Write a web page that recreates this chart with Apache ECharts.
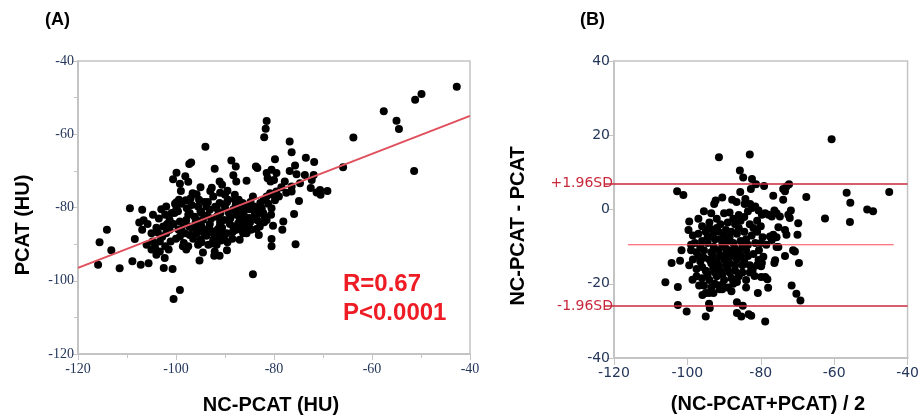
<!DOCTYPE html>
<html>
<head>
<meta charset="utf-8">
<script src="https://cdn.jsdelivr.net/npm/echarts@6/dist/echarts.min.js"></script>
<style>
	html, body { margin: 0; padding: 0; background: #fff; }
	#chart { width: 922px; height: 419px; }
</style>
</head>
<body>
<div id="chart"></div>
<script>
// (A) NC-PCAT vs PCAT, HU
var scatterA = [
	[-42.7,-47.0],[-49.9,-49.0],[-51.2,-50.6],[-57.6,-53.7],[-55.0,-56.3],[-54.5,-58.6],[-63.8,-60.9],[-51.4,-70.0],
	[-65.9,-69.0],[-81.5,-56.4],[-81.7,-58.5],[-82.0,-60.8],[-94.0,-63.4],[-76.8,-62.0],[-76.4,-64.9],[-73.5,-66.4],
	[-71.8,-67.6],[-79.8,-66.8],[-75.7,-68.5],[-76.8,-70.0],[-88.7,-67.2],[-87.8,-68.8],[-92.1,-69.4],[-97.3,-68.1],
	[-96.9,-67.7],[-99.9,-70.5],[-99.2,-73.5],[-98.1,-71.5],[-100.6,-72.3],[-83.7,-68.8],[-83.4,-69.2],[-85.6,-72.7],
	[-88.3,-71.2],[-87.7,-72.9],[-92.7,-74.6],[-91.1,-72.9],[-90.6,-73.8],[-89.5,-75.4],[-81.5,-70.6],[-80.5,-69.7],
	[-81.3,-72.0],[-80.0,-72.5],[-80.7,-72.9],[-79.5,-70.6],[-77.8,-72.9],[-75.4,-70.9],[-73.7,-71.1],[-71.9,-71.1],
	[-72.3,-72.5],[-76.4,-75.6],[-76.4,-74.3],[-74.7,-73.4],[-72.5,-74.7],[-71.3,-75.9],[-70.5,-76.5],[-69.1,-75.5],
	[-70.6,-75.2],[-74.9,-78.2],[-75.9,-81.8],[-75.6,-90.0],[-78.1,-83.8],[-78.3,-86.1],[-80.2,-85.0],[-80.5,-88.6],
	[-80.5,-90.6],[-84.3,-98.2],[-83.1,-87.5],[-83.6,-85.9],[-82.9,-85.2],[-84.9,-84.1],[-84.6,-82.9],[-86.3,-87.0],
	[-87.0,-88.8],[-85.6,-87.0],[-89.6,-91.7],[-90.8,-89.0],[-91.1,-93.2],[-92.2,-93.2],[-92.1,-92.0],[-94.5,-92.3],
	[-95.2,-94.5],[-97.9,-91.5],[-98.6,-90.6],[-99.2,-102.5],[-100.5,-105.0],[-100.7,-96.8],[-102.5,-96.5],[-102.3,-93.8],
	[-102.2,-90.6],[-103.3,-92.0],[-104.0,-92.9],[-105.0,-91.5],[-105.6,-95.2],[-107.2,-95.6],[-108.9,-94.7],[-111.5,-96.6],
	[-115.9,-95.6],[-115.6,-89.5],[-114.1,-86.1],[-113.2,-91.7],[-109.4,-80.2],[-108.4,-88.6],[-107.5,-84.1],[-106.9,-80.6],
	[-106.6,-83.5],[-106.9,-86.1],[-106.0,-90.2],[-104.7,-82.0],[-105.0,-87.0],[-104.8,-89.3],[-104.3,-90.8],[-103.3,-89.3],
	[-103.7,-86.8],[-102.6,-85.2],[-102.2,-82.0],[-102.0,-79.7],[-102.0,-87.0],[-103.0,-87.9],[-101.3,-83.4],[-100.9,-81.5],
	[-101.3,-86.1],[-101.1,-89.3],[-100.3,-81.5],[-99.9,-78.6],[-99.9,-80.2],[-99.4,-77.9],[-98.9,-79.0],[-99.2,-83.8],
	[-98.9,-86.1],[-99.2,-87.9],[-98.2,-87.0],[-98.4,-89.7],[-97.5,-90.6],[-97.2,-87.5],[-96.8,-85.6],[-97.2,-81.5],
	[-96.8,-79.3],[-96.6,-76.1],[-95.8,-76.4],[-95.3,-77.9],[-95.5,-79.7],[-94.8,-81.5],[-94.8,-85.2],[-94.3,-87.0],
	[-95.0,-88.8],[-93.8,-87.7],[-93.4,-90.2],[-93.8,-79.7],[-93.1,-80.6],[-92.4,-77.0],[-91.7,-80.2],[-91.7,-82.5],
	[-91.1,-78.8],[-90.9,-81.5],[-90.0,-76.5],[-90.2,-83.4],[-89.4,-77.9],[-89.2,-81.5],[-89.7,-87.0],[-88.3,-80.5],
	[-88.0,-77.9],[-87.7,-82.0],[-87.3,-84.3],[-86.4,-78.8],[-86.2,-81.5],[-85.5,-79.7],[-85.3,-82.9],[-84.7,-86.1],
	[-84.3,-77.0],[-83.9,-82.5],[-83.2,-80.6],[-82.5,-80.2],[-82.1,-77.9],[-81.5,-77.0],[-80.8,-76.1],[-80.2,-76.5],
	[-79.5,-75.6],[-80.5,-80.2],[-81.5,-83.4],[-82.2,-81.5],[-82.9,-81.5],[-81.9,-82.5],[-84.1,-79.7],[-85.7,-83.4],
	[-86.6,-84.7],[-88.3,-85.2],[-88.9,-82.9],[-91.1,-85.2],[-92.4,-87.0],[-92.4,-88.8],[-91.1,-87.9],[-93.1,-84.5],
	[-94.5,-83.4],[-95.8,-83.4],[-97.9,-83.4],[-97.3,-85.2],[-95.8,-87.0],[-95.5,-90.2],[-91.7,-90.2],[-90.4,-87.0],
	[-87.7,-86.1],[-88.0,-76.5],[-87.2,-77.9],[-97.5,-82.0],[-96.0,-84.0],[-94.0,-86.0],[-92.8,-83.0],[-91.0,-84.0],
	[-90.0,-80.0],[-89.0,-84.5],[-88.5,-88.5],[-87.0,-80.5],[-86.0,-85.5],[-85.0,-80.5],[-96.5,-88.5],[-93.5,-78.5],
	[-99.6,-81.0],[-101.8,-84.5],[-100.0,-88.5],[-98.0,-78.0],[-95.0,-81.0],[-91.5,-86.0],[-89.5,-89.5],[-103.5,-83.0],
	[-104.0,-85.5],[-102.8,-88.0],[-101.5,-91.5],[-100.5,-84.5],[-99.5,-86.0],[-100.2,-79.0],[-98.5,-84.5],[-97.8,-80.2],
	[-97.0,-77.5],[-96.2,-82.5],[-95.5,-85.8],[-94.8,-89.5],[-94.2,-78.5],[-93.6,-82.2],[-93.0,-86.2],[-92.6,-89.8],
	[-92.0,-79.8],[-91.4,-82.0],[-90.6,-85.5],[-90.2,-88.5],[-89.6,-78.6],[-89.0,-83.0],[-88.4,-86.6],[-87.8,-79.2],
	[-87.0,-83.0],[-86.6,-86.0],[-86.0,-80.0],[-85.4,-84.8],[-84.8,-78.5],[-84.0,-81.0],[-83.4,-83.5],[-82.8,-78.8],
	[-82.0,-84.0],[-81.2,-79.0],[-80.6,-82.0],[-79.8,-78.0],[-79.0,-77.0],[-78.5,-74.5],[-77.5,-76.0],[-99.0,-75.5],
	[-97.5,-73.0],[-95.0,-74.5],[-93.0,-75.5],[-91.0,-76.0],[-103.0,-80.5],[-105.8,-84.5]
];
var fitX = [-120, -40];
var fitY = [-96.5, -55.0];
var statR = 'R=0.67';
var statP = 'P<0.0001';

// (B) Bland-Altman: mean of the two vs difference
var scatterB = [
	[-60.7,18.9],[-91.4,14.1],[-83.0,14.8],[-85.7,10.5],[-84.8,8.6],[-82.4,8.2],[-81.3,6.8],[-79.1,6.3],
	[-82.7,5.5],[-85.6,4.7],[-102.8,4.9],[-101.1,3.9],[-72.3,6.8],[-73.0,6.2],[-73.9,5.5],[-73.4,4.9],
	[-76.6,3.7],[-73.9,2.6],[-67.6,3.4],[-56.6,4.5],[-55.6,1.8],[-45.0,4.7],[-51.0,0.0],[-49.4,-0.5],
	[-62.5,-2.4],[-55.7,-3.4],[-90.5,3.2],[-92.3,2.4],[-92.7,1.5],[-87.8,2.6],[-86.6,2.0],[-84.2,2.8],
	[-84.4,1.5],[-82.9,1.5],[-82.4,0.4],[-81.5,0.8],[-80.6,-0.3],[-79.7,-1.4],[-78.8,-1.0],[-77.9,-1.4],
	[-77.0,-1.9],[-76.3,-0.3],[-75.7,-1.0],[-74.8,-1.9],[-72.5,-1.4],[-71.8,-0.3],[-72.1,-2.3],[-69.8,-3.7],
	[-70.0,-6.8],[-73.4,-5.5],[-73.0,-6.8],[-75.2,-4.8],[-75.7,-7.5],[-76.6,-6.8],[-77.0,-8.2],[-77.5,-7.3],
	[-75.7,-10.1],[-75.2,-10.1],[-73.4,-12.5],[-71.2,-11.0],[-70.7,-11.3],[-69.6,-14.4],[-71.6,-20.5],[-70.3,-22.7],
	[-69.2,-24.5],[-79.3,-12.7],[-79.7,-14.4],[-76.3,-14.4],[-76.1,-13.7],[-80.6,-13.6],[-79.9,-15.3],[-81.7,-17.9],
	[-82.2,-16.2],[-79.9,-18.2],[-78.8,-18.2],[-78.2,-18.8],[-78.0,-21.1],[-80.8,-22.5],[-86.5,-25.0],[-84.9,-25.9],
	[-86.5,-27.9],[-85.3,-28.8],[-83.3,-28.2],[-82.6,-28.6],[-78.8,-30.2],[-95.0,-28.8],[-94.1,-25.4],[-93.9,-26.5],
	[-100.2,-27.5],[-102.6,-25.7],[-106.0,-19.6],[-102.6,-20.9],[-104.3,-14.4],[-102.0,-13.8],[-98.6,-18.9],[-99.5,-3.2],
	[-99.7,-5.5],[-101.6,-11.0],[-96.8,-20.5],[-95.9,-23.0],[-95.0,-22.5],[-94.1,-22.5],[-92.9,-22.5],[-91.2,-21.5],
	[-90.5,-20.3],[-95.5,-0.5],[-93.5,-1.0],[-88.5,-0.8],[-86.0,-1.5],[-84.5,-2.0],[-83.5,-0.5],[-96.0,-4.5],
	[-94.0,-3.5],[-91.0,-4.0],[-89.0,-3.5],[-87.0,-4.0],[-85.5,-3.0],[-83.0,-4.0],[-81.0,-3.0],[-80.0,-4.5],
	[-97.0,-6.5],[-95.0,-6.0],[-93.0,-6.5],[-91.5,-6.0],[-90.0,-7.0],[-88.0,-6.0],[-86.5,-6.5],[-84.5,-6.0],
	[-82.5,-7.0],[-81.0,-6.0],[-79.5,-7.5],[-98.0,-9.0],[-96.0,-8.5],[-94.5,-9.0],[-92.5,-8.0],[-90.5,-9.5],
	[-89.0,-8.5],[-87.5,-9.0],[-85.5,-8.5],[-83.5,-9.5],[-81.5,-9.0],[-78.5,-9.5],[-99.0,-11.0],[-97.5,-11.5],
	[-95.5,-11.0],[-93.5,-11.5],[-91.5,-11.0],[-89.5,-12.0],[-88.0,-11.0],[-86.0,-11.5],[-84.0,-11.0],[-82.0,-12.0],
	[-98.5,-13.5],[-96.5,-14.0],[-94.0,-13.5],[-92.0,-14.0],[-90.0,-13.5],[-88.5,-14.5],[-86.5,-13.5],[-84.5,-14.0],
	[-83.0,-15.0],[-97.5,-16.0],[-95.0,-16.5],[-93.0,-16.0],[-91.0,-16.5],[-89.0,-16.0],[-87.0,-16.5],[-85.0,-17.0],
	[-96.0,-18.5],[-94.0,-19.0],[-92.0,-18.0],[-90.0,-19.0],[-88.0,-18.5],[-86.5,-19.5],[-84.0,-19.0],[-93.5,-21.0],
	[-91.5,-20.5],[-89.0,-21.0],[-87.5,-20.0],[-97.0,-2.5],[-92.0,-2.5],[-90.0,-1.0],[-87.5,-2.5],[-96.5,-10.0],
	[-94.5,-7.5],[-92.8,-10.0],[-91.0,-8.0],[-89.5,-10.5],[-88.5,-7.5],[-87.0,-10.5],[-85.0,-10.0],[-83.5,-12.5],
	[-80.5,-11.0],[-80.0,-9.0],[-97.0,-12.5],[-95.5,-13.0],[-93.0,-12.5],[-91.0,-12.5],[-89.0,-13.0],[-87.5,-12.5],
	[-85.5,-12.5],[-85.0,-15.0],[-87.0,-15.0],[-89.5,-15.0],[-91.5,-15.0],[-93.5,-14.5],[-96.0,-15.5],[-94.5,-17.5],
	[-92.5,-17.0],[-90.5,-17.5],[-88.5,-17.0],[-86.0,-18.0],[-92.5,-20.0],[-90.5,-21.5],[-88.0,-22.0],[-95.5,-20.5],
	[-92.0,-5.0],[-89.5,-5.5],[-86.0,-5.0],[-84.0,-8.0],[-82.0,-5.0],[-94.0,-5.0],[-98.5,-7.0],[-97.5,-18.0],
	[-99.5,-15.0],[-99.0,-9.5],[-83.0,-17.0],[-81.0,-15.0],[-84.0,-21.0]
];
var meanDiff = -9.5;
var meanRange = [-116.2, -43.8];
var sdUpper = 7.0;
var sdLower = -26.0;
var sdLabels = ['+1.96SD', '-1.96SD'];

var chart = echarts.init(document.getElementById('chart'));

var tickColor = '#24365a',
	frameColor = '#c4c4c4',
	sdColor = '#c8283c',
	bold = 'Liberation Sans, Arial, sans-serif';

var option = {
	animation: false,
	grid: [
		{left: 78, top: 61, width: 392, height: 293, show: true, borderColor: frameColor, borderWidth: 1.5},
		{left: 614, top: 61, width: 297, height: 297, show: true, borderColor: frameColor, borderWidth: 1.5}
	],
	xAxis: [{
		gridIndex: 0, type: 'value', min: -120, max: -40, interval: 20,
		splitLine: {show: false},
		axisLine: {onZero: false, lineStyle: {color: frameColor, width: 2}},
		axisTick: {length: 6, lineStyle: {color: frameColor}},
		minorTick: {show: true, splitNumber: 2, length: 4, lineStyle: {color: frameColor}},
		axisLabel: {color: tickColor, fontFamily: 'Liberation Serif, serif', fontSize: 14, margin: 8}
	}, {
		gridIndex: 1, type: 'value', min: -120, max: -40, interval: 20,
		splitLine: {show: false},
		axisLine: {onZero: false, lineStyle: {color: frameColor, width: 2}},
		axisTick: {length: 7, lineStyle: {color: frameColor}},
		axisLabel: {color: tickColor, fontFamily: 'DejaVu Sans, sans-serif', fontSize: 14, margin: 8}
	}],
	yAxis: [{
		gridIndex: 0, type: 'value', min: -120, max: -40, interval: 20,
		splitLine: {show: false},
		axisLine: {show: true, onZero: false, lineStyle: {color: frameColor, width: 2}},
		axisTick: {show: true, length: 6, lineStyle: {color: frameColor}},
		minorTick: {show: true, splitNumber: 2, length: 4, lineStyle: {color: frameColor}},
		axisLabel: {color: tickColor, fontFamily: 'Liberation Serif, serif', fontSize: 14, margin: 4}
	}, {
		gridIndex: 1, type: 'value', min: -40, max: 40, interval: 20,
		splitLine: {show: false},
		axisLine: {show: true, onZero: false, lineStyle: {color: frameColor, width: 2}},
		axisTick: {show: true, length: 7, lineStyle: {color: frameColor}},
		axisLabel: {color: tickColor, fontFamily: 'DejaVu Sans, sans-serif', fontSize: 14, margin: 4}
	}, {
		// red ticks for the limits of agreement
		gridIndex: 1, type: 'value', min: -40, max: 40, position: 'left',
		splitLine: {show: false},
		axisLine: {show: false},
		axisTick: {show: true, length: 10, customValues: [sdUpper, sdLower], lineStyle: {color: sdColor, width: 1.5}},
		axisLabel: {
			customValues: [sdUpper, sdLower], color: sdColor, fontFamily: 'DejaVu Sans, sans-serif', fontSize: 14, margin: 1,
			formatter: function(v){ return v > 0 ? sdLabels[0] : sdLabels[1]; }
		}
	}],
	series: [{
		type: 'scatter', xAxisIndex: 0, yAxisIndex: 0,
		data: scatterA, symbolSize: 8,
		itemStyle: {color: '#000', opacity: 1}
	}, {
		type: 'line', xAxisIndex: 0, yAxisIndex: 0,
		data: [[fitX[0], fitY[0]], [fitX[1], fitY[1]]],
		showSymbol: false, silent: true, z: 3,
		lineStyle: {color: '#e0505c', width: 2}
	}, {
		type: 'scatter', xAxisIndex: 1, yAxisIndex: 1,
		data: scatterB, symbolSize: 8,
		itemStyle: {color: '#000', opacity: 1},
		markLine: {
			silent: true, symbol: 'none',
			label: {show: false},
			lineStyle: {color: sdColor, width: 1.5, type: 'solid'},
			data: [
				[{coord: [-120, sdUpper]}, {coord: [-40, sdUpper]}],
				[{coord: [-120, sdLower]}, {coord: [-40, sdLower]}]
			]
		}
	}, {
		type: 'line', xAxisIndex: 1, yAxisIndex: 1,
		data: [[meanRange[0], meanDiff], [meanRange[1], meanDiff]],
		showSymbol: false, silent: true, z: 3,
		lineStyle: {color: '#ff4a5a', width: 1.2}
	}],
	graphic: [
		{type: 'text', left: 45, top: 11, style: {text: '(A)', font: 'bold 18px ' + bold, fill: '#000'}},
		{type: 'text', left: 580, top: 11, style: {text: '(B)', font: 'bold 18px ' + bold, fill: '#000'}},
		{type: 'text', x: 271, y: 405, style: {text: 'NC-PCAT (HU)', font: 'bold 20px ' + bold, fill: '#000', align: 'center', verticalAlign: 'middle'}},
		{type: 'text', x: 23, y: 225, rotation: Math.PI / 2, style: {text: 'PCAT (HU)', font: 'bold 20px ' + bold, fill: '#000', align: 'center', verticalAlign: 'middle'}},
		{type: 'text', x: 768, y: 404, style: {text: '(NC-PCAT+PCAT) / 2', font: 'bold 20px ' + bold, fill: '#000', align: 'center', verticalAlign: 'middle'}},
		{type: 'text', x: 518, y: 226, rotation: Math.PI / 2, style: {text: 'NC-PCAT - PCAT', font: 'bold 20px ' + bold, fill: '#000', align: 'center', verticalAlign: 'middle'}},
		{type: 'text', x: 343, y: 284, style: {text: statR, font: 'bold 24px ' + bold, fill: '#ee1c24', verticalAlign: 'middle'}},
		{type: 'text', x: 343, y: 313, style: {text: statP, font: 'bold 24px ' + bold, fill: '#ee1c24', verticalAlign: 'middle'}}
	]
};

chart.setOption(option);
</script>
</body>
</html>
